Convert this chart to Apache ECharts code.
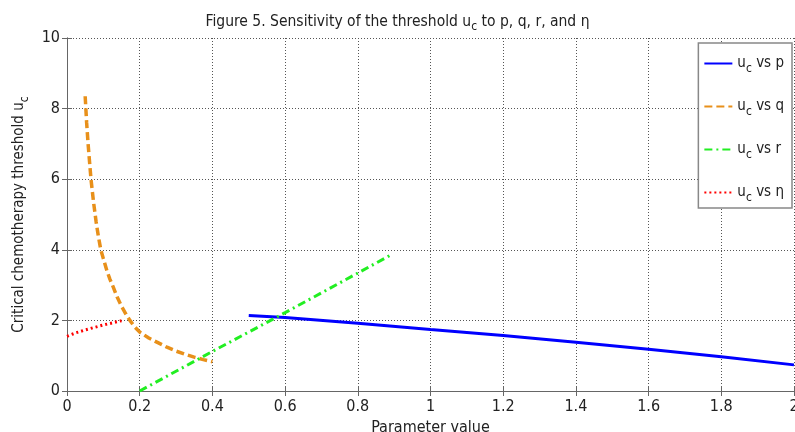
<!DOCTYPE html>
<html>
<head>
<meta charset="utf-8">
<script src="https://cdn.jsdelivr.net/npm/echarts@6/dist/echarts.min.js"></script>
<style>
  html, body { margin: 0; padding: 0; background: #fff; }
  #chart { width: 795px; height: 432px; }
</style>
</head>
<body>
<div id="chart"></div>
<script>
// Sensitivity of the threshold u_c
const pValues = [[0.5, 2.14], [0.6, 2.08], [0.8, 1.92], [1.0, 1.74], [1.2, 1.57], [1.4, 1.38], [1.6, 1.18], [1.8, 0.97], [2.0, 0.74]];
const qValues = [[0.05, 8.35], [0.054, 7.6], [0.058, 7.0], [0.062, 6.5], [0.066, 6.0], [0.073, 5.35], [0.08, 4.8], [0.086, 4.4], [0.093, 4.0], [0.1, 3.75], [0.11, 3.4], [0.118, 3.17], [0.127, 2.95], [0.138, 2.66], [0.15, 2.4], [0.162, 2.18], [0.173, 2.0], [0.186, 1.82], [0.2, 1.67], [0.225, 1.5], [0.25, 1.37], [0.275, 1.24], [0.3, 1.13], [0.325, 1.04], [0.35, 0.96], [0.375, 0.89], [0.4, 0.83]];
const rValues = [[0.2, 0.0], [0.4, 1.12], [0.6, 2.22], [0.8, 3.34], [0.89, 3.85]];
const etaValues = [[0.0, 1.55], [0.025, 1.65], [0.05, 1.73], [0.075, 1.8], [0.1, 1.87], [0.125, 1.93], [0.15, 1.99]];
const seriesNames = ['u{sub|c} vs p', 'u{sub|c} vs q', 'u{sub|c} vs r', 'u{sub|c} vs \u03b7'];
const xTicks = { min: 0, max: 2, interval: 0.2 };
const yTicks = { min: 0, max: 10, interval: 2 };

const FONT = "'DejaVu Sans Condensed', 'Liberation Sans Narrow', sans-serif";
const subStyle = { fontFamily: FONT, fontSize: 12, verticalAlign: 'bottom', padding: [11, 0, 0, 0], color: '#222' };

const chart = echarts.init(document.getElementById('chart'));

function lineSeries(name, data, color, type, width) {
    return {
        name: name,
        type: 'line',
        data: data,
        symbol: 'none',
        smooth: false,
        xAxisIndex: 0,
        yAxisIndex: 0,
        lineStyle: { color: color, width: width, type: type },
        itemStyle: { color: color }
    };
}

const frameAxis = {
    axisLine: { show: true, lineStyle: { color: '#666', width: 1 } },
    axisTick: { show: true, inside: true, length: 5, lineStyle: { color: '#666' } },
    axisLabel: { show: false },
    splitLine: { show: false }
};

const option = {
    animation: false,
    backgroundColor: '#fff',
    title: {
        text: 'Figure 5. Sensitivity of the threshold u{sub|c} to p, q, r, and \u03b7',
        left: 'center',
        top: 5,
        textStyle: {
            fontFamily: FONT, fontSize: 15.5, fontWeight: 'normal', color: '#222',
            rich: { sub: subStyle }
        }
    },
    grid: { left: 67, right: 1, top: 38, bottom: 41, outerBoundsMode: 'none' },
    legend: {
        orient: 'vertical',
        right: 3,
        top: 43,
        padding: [13, 8, 4, 5],
        itemGap: 24,
        itemWidth: 28,
        itemHeight: 14,
        backgroundColor: '#fff',
        borderColor: '#888',
        borderWidth: 1.5,
        itemStyle: { color: 'rgba(0,0,0,0)', borderWidth: 0 },
        textStyle: { fontFamily: FONT, fontSize: 15, color: '#222', rich: { sub: subStyle } },
        data: seriesNames
    },
    xAxis: [
        {
            type: 'value',
            min: xTicks.min, max: xTicks.max, interval: xTicks.interval,
            name: 'Parameter value',
            nameLocation: 'middle',
            nameGap: 17,
            nameTextStyle: { fontFamily: FONT, fontSize: 16, color: '#222', verticalAlign: 'top', lineHeight: 16 },
            axisLine: { show: true, onZero: false, lineStyle: { color: '#666', width: 1 } },
            axisTick: { show: true, inside: true, length: 5, lineStyle: { color: '#666' } },
            axisLabel: { fontFamily: FONT, fontSize: 16, color: '#222', margin: 8 },
            splitLine: { show: true, lineStyle: { color: '#555', type: [1, 2], width: 1 } }
        },
        Object.assign({ type: 'value', position: 'top', min: xTicks.min, max: xTicks.max, interval: xTicks.interval }, frameAxis)
    ],
    yAxis: [
        {
            type: 'value',
            min: yTicks.min, max: yTicks.max, interval: yTicks.interval,
            name: 'Critical chemotherapy threshold u{sub|c}',
            nameLocation: 'middle',
            nameGap: 26,
            nameRotate: 90,
            nameTextStyle: { fontFamily: FONT, fontSize: 15, color: '#222', rich: { sub: subStyle } },
            axisLine: { show: true, onZero: false, lineStyle: { color: '#666', width: 1 } },
            axisTick: { show: true, inside: true, length: 5, lineStyle: { color: '#666' } },
            axisLabel: { fontFamily: FONT, fontSize: 16, color: '#222', margin: 7 },
            splitLine: { show: true, lineStyle: { color: '#555', type: [1, 2], width: 1 } }
        },
        Object.assign({ type: 'value', position: 'right', min: yTicks.min, max: yTicks.max, interval: yTicks.interval }, frameAxis)
    ],
    series: [
        lineSeries(seriesNames[0], pValues, '#0000ff', 'solid', 3),
        lineSeries(seriesNames[1], qValues, '#e8901a', [8, 4], 3.5),
        lineSeries(seriesNames[2], rValues, '#22ee22', [8, 4, 2, 4], 3),
        lineSeries(seriesNames[3], etaValues, '#ff0000', [2, 3], 3)
    ]
};

chart.setOption(option);
</script>
</body>
</html>
